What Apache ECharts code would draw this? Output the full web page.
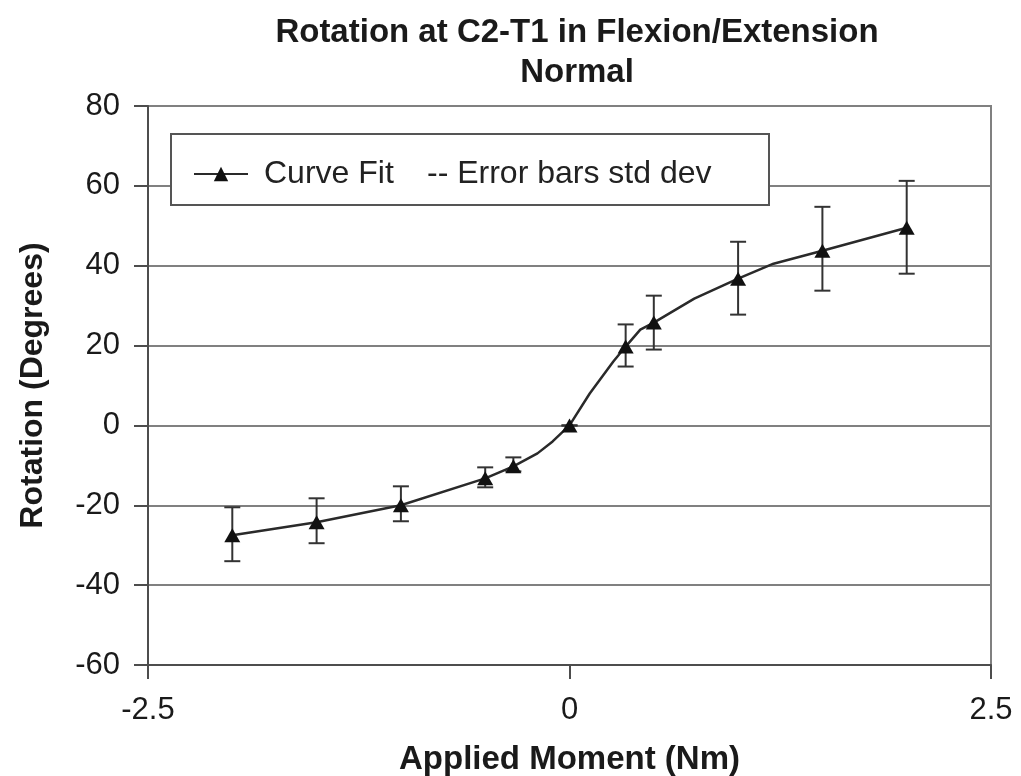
<!DOCTYPE html>
<html>
<head>
<meta charset="utf-8">
<script src="https://cdn.jsdelivr.net/npm/echarts@6/dist/echarts.min.js"></script>
<style>html,body{margin:0;padding:0;background:#fff;}#chart{width:1021px;height:776px;}</style>
</head>
<body>
<div id="chart"></div>
<script>
// Data
const titleLines = ['Rotation at C2-T1 in Flexion/Extension', 'Normal'];
const xAxisName = 'Applied Moment (Nm)';
const yAxisName = 'Rotation (Degrees)';
const curveName = 'Curve Fit';
const errName = '-- Error bars std dev';

// measured points (triangles)
const momentX = [-2, -1.5, -1, -0.5, -0.333, 0, 0.333, 0.5, 1, 1.5, 2];
const rotationMean = [-27.5, -24.25, -20, -13.25, -10.25, 0, 19.75, 25.75, 36.75, 43.75, 49.5];
const errHigh = [-20.5, -18.25, -15.25, -10.5, -8, 0, 25.3, 32.5, 46, 54.75, 61.25];
const errLow = [-34, -29.5, -24, -15.5, -11.5, 0, 14.75, 19, 27.75, 33.75, 38];

// curve fit vertices
const curveX = [-2, -1.5, -1, -0.5, -0.333, -0.19, -0.1, 0, 0.12, 0.26, 0.333, 0.42, 0.5, 0.74, 1, 1.21, 1.5, 2];
const curveY = [-27.5, -24.25, -20, -13.25, -10.25, -7, -4, 0, 8, 16, 19.75, 24, 25.75, 31.75, 36.75, 40.5, 43.75, 49.5];

// axis settings
const xMin = -2.5, xMax = 2.5, xStep = 2.5;
const yMin = -60, yMax = 80, yStep = 20;

const font = "'Liberation Sans', Arial, Helvetica, sans-serif";
const chart = echarts.init(document.getElementById('chart'), null, {renderer: 'canvas'});

const option = {
  backgroundColor: '#ffffff',
  animation: false,
  title: {
    text: titleLines.join('\n'),
    left: 572,
    top: 8,
    textAlign: 'center',
    textStyle: {fontFamily: font, fontSize: 33, fontWeight: 'bold', color: '#1a1a1a', lineHeight: 40}
  },
  grid: {
    left: 148, right: 30, top: 106, bottom: 111,
    outerBoundsMode: 'none', containLabel: false,
    show: true, borderColor: '#808080', borderWidth: 2, backgroundColor: 'transparent'
  },
  graphic: [{
    type: 'rect', z: 3,
    shape: {x: 171, y: 134, width: 598, height: 71},
    style: {fill: '#ffffff', stroke: '#555555', lineWidth: 2}
  }],
  legend: [{
    data: [curveName],
    left: 193, top: 158, padding: 0,
    itemWidth: 54, itemHeight: 18,
    textStyle: {fontFamily: font, fontSize: 32, color: '#222', padding: [0, 0, 0, 11]},
    selectedMode: false, z: 5
  }, {
    data: [{name: errName, icon: 'none'}],
    left: 422, top: 158, padding: 0,
    itemWidth: 0, itemHeight: 18,
    textStyle: {fontFamily: font, fontSize: 32, color: '#222'},
    selectedMode: false, z: 5
  }],
  xAxis: {
    type: 'value', min: xMin, max: xMax, interval: xStep,
    name: xAxisName, nameLocation: 'middle', nameGap: 78,
    nameTextStyle: {fontFamily: font, fontSize: 33, fontWeight: 'bold', color: '#1a1a1a'},
    axisLine: {onZero: false, lineStyle: {color: '#4d4d4d', width: 2}},
    axisTick: {show: true, length: 14, lineStyle: {color: '#4d4d4d', width: 2}},
    axisLabel: {fontFamily: font, fontSize: 31, color: '#1a1a1a', margin: 30},
    splitLine: {show: false}
  },
  yAxis: {
    type: 'value', min: yMin, max: yMax, interval: yStep,
    name: yAxisName, nameLocation: 'middle', nameGap: 99,
    nameTextStyle: {fontFamily: font, fontSize: 32, fontWeight: 'bold', color: '#1a1a1a'},
    axisLine: {onZero: false, lineStyle: {color: '#4d4d4d', width: 2}},
    axisTick: {show: true, length: 14, lineStyle: {color: '#4d4d4d', width: 2}},
    axisLabel: {fontFamily: font, fontSize: 31, color: '#1a1a1a', margin: 28},
    splitLine: {show: true, lineStyle: {color: '#808080', width: 2}}
  },
  series: [{
    name: curveName,
    type: 'line',
    symbol: 'triangle',
    symbolSize: [16, 14],
    showSymbol: false,
    data: curveX.map((x, i) => [x, curveY[i]]),
    lineStyle: {color: '#2a2a2a', width: 2.5},
    itemStyle: {color: '#111'},
    z: 3
  }, {
    name: errName,
    type: 'custom',
    data: momentX.map((x, i) => [x, errHigh[i], errLow[i]]),
    encode: {x: 0, y: [1, 2]},
    renderItem: function (params, api) {
      const x = api.value(0);
      const pHi = api.coord([x, api.value(1)]);
      const pLo = api.coord([x, api.value(2)]);
      const w = 8;
      const st = {stroke: '#333', lineWidth: 2};
      return {
        type: 'group',
        children: [
          {type: 'line', shape: {x1: pHi[0], y1: pHi[1], x2: pLo[0], y2: pLo[1]}, style: st},
          {type: 'line', shape: {x1: pHi[0] - w, y1: pHi[1], x2: pHi[0] + w, y2: pHi[1]}, style: st},
          {type: 'line', shape: {x1: pLo[0] - w, y1: pLo[1], x2: pLo[0] + w, y2: pLo[1]}, style: st}
        ]
      };
    },
    z: 2
  }, {
    name: 'markers',
    type: 'scatter',
    symbol: 'triangle',
    symbolSize: [16, 14],
    data: momentX.map((x, i) => [x, rotationMean[i]]),
    itemStyle: {color: '#111', opacity: 1},
    z: 4
  }]
};
chart.setOption(option);
</script>
</body>
</html>
